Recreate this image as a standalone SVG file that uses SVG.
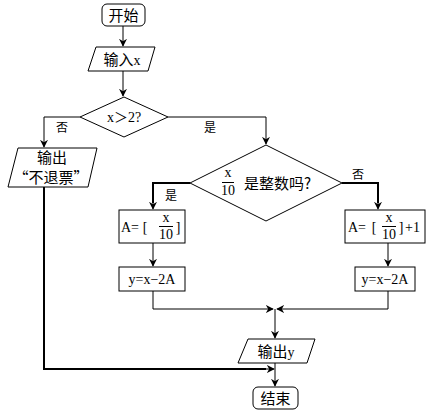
<svg xmlns="http://www.w3.org/2000/svg" width="432" height="412" viewBox="0 0 432 412">
<defs>
<marker id="ah" viewBox="0 0 10 10" refX="9" refY="5" markerWidth="8" markerHeight="8" markerUnits="userSpaceOnUse" orient="auto">
<path d="M0,0 L10,5 L0,10 L3,5 Z" fill="#000"/>
</marker>
<style>
.s{fill:#fff;stroke:#000;stroke-width:1}
.l{fill:none;stroke:#000;stroke-width:1}
.t{fill:none;stroke:#000;stroke-width:2}
.c{font-family:"Noto Sans CJK SC","Liberation Serif",serif;font-size:15px;fill:#000}
.m{font-family:"Liberation Serif","Noto Sans CJK SC",serif;font-size:14px;fill:#000}
.sm{font-family:"Noto Sans CJK SC",sans-serif;font-size:12px;fill:#000}
</style>
</defs>
<rect width="432" height="412" fill="#fff"/>
<g id="connectors">
<line class="l" x1="123" y1="26" x2="123" y2="46" marker-end="url(#ah)"/>
<line class="l" x1="123" y1="71" x2="123" y2="96" marker-end="url(#ah)"/>
<polyline class="l" points="80,117 44,117 44,147" marker-end="url(#ah)"/>
<polyline class="l" points="168,117 266,117 266,144" marker-end="url(#ah)"/>
<polyline class="t" points="44,187 44,369 266,369"/>
<line class="l" x1="266" y1="369" x2="274" y2="369" marker-end="url(#ah)"/>
<polyline class="t" points="190,183 153,183 153,203"/>
<line class="l" x1="153" y1="202" x2="153" y2="209" marker-end="url(#ah)"/>
<polyline class="t" points="342,183 378,183 378,203"/>
<line class="l" x1="378" y1="202" x2="378" y2="209" marker-end="url(#ah)"/>
<line class="l" x1="153" y1="243" x2="153" y2="266" marker-end="url(#ah)"/>
<line class="l" x1="388" y1="243" x2="388" y2="266" marker-end="url(#ah)"/>
<polyline class="l" points="153,291 153,309 273,309" marker-end="url(#ah)"/>
<polyline class="l" points="388,291 388,309 277,309" marker-end="url(#ah)"/>
<line class="l" x1="275" y1="309" x2="275" y2="338" marker-end="url(#ah)"/>
<line class="l" x1="275" y1="363" x2="275" y2="386" marker-end="url(#ah)"/>
<text class="sm" x="62" y="132" text-anchor="middle">否</text>
<text class="sm" x="210" y="132" text-anchor="middle">是</text>
<text class="sm" x="171" y="200" text-anchor="middle">是</text>
<text class="sm" x="358" y="179" text-anchor="middle">否</text>
</g>
<g id="start">
<rect class="s" x="102" y="4" width="43" height="22" rx="5"/>
<text class="c" x="123.5" y="20.5" text-anchor="middle">开始</text>
</g>
<g id="input">
<polygon class="s" points="96,47 155,47 148,71 88,71"/>
<text class="c" x="122" y="64.5" text-anchor="middle">输入<tspan class="m">x</tspan></text>
</g>
<g id="cond1">
<polygon class="s" points="124,97 168,117 124,137 80,117"/>
<text class="m" x="124" y="122" text-anchor="middle">x＞2?</text>
</g>
<g id="out-no">
<polygon class="s" points="18,148 97,148 88,187 8,187"/>
<text class="c" x="52" y="163" text-anchor="middle">输出</text>
<text class="c" x="51" y="183" text-anchor="middle">“不退票”</text>
</g>
<g id="cond2">
<polygon class="s" points="266,145 342,183 266,221 190,183"/>
<text class="m" x="228" y="177" text-anchor="middle" font-size="12">x</text>
<line class="l" x1="222" y1="182.5" x2="234" y2="182.5"/>
<text class="m" x="228" y="195" text-anchor="middle" font-size="13">10</text>
<text class="c" x="244" y="188.5" font-size="16">是整数吗?</text>
</g>
<g id="calcA1">
<rect class="s" x="119" y="210" width="66" height="33"/>
<text class="m" x="121" y="232">A=</text>
<text class="m" x="145" y="232" text-anchor="middle">[</text>
<text class="m" x="166" y="222" text-anchor="middle" font-size="12">x</text>
<line class="l" x1="159" y1="226.5" x2="173" y2="226.5"/>
<text class="m" x="166" y="239" text-anchor="middle" font-size="13">10</text>
<text class="m" x="178" y="232" text-anchor="middle">]</text>
</g>
<g id="calcA2">
<rect class="s" x="345" y="210" width="80" height="33"/>
<text class="m" x="348" y="232">A=</text>
<text class="m" x="374" y="232" text-anchor="middle">[</text>
<text class="m" x="389" y="222" text-anchor="middle" font-size="12">x</text>
<line class="l" x1="382" y1="226.5" x2="396" y2="226.5"/>
<text class="m" x="389" y="239" text-anchor="middle" font-size="13">10</text>
<text class="m" x="401" y="232" text-anchor="middle">]</text>
<text class="m" x="405" y="232">+1</text>
</g>
<g id="calcY1">
<rect class="s" x="119" y="267" width="66" height="24"/>
<text class="m" x="152" y="284" text-anchor="middle">y=x−2A</text>
</g>
<g id="calcY2">
<rect class="s" x="355" y="267" width="60" height="24"/>
<text class="m" x="385" y="284" text-anchor="middle">y=x−2A</text>
</g>
<g id="out-y">
<polygon class="s" points="248,339 315,339 307,363 238,363"/>
<text class="c" x="276" y="356.5" text-anchor="middle">输出<tspan class="m">y</tspan></text>
</g>
<g id="end">
<rect class="s" x="253" y="387" width="45" height="22" rx="5"/>
<text class="c" x="275.5" y="403.5" text-anchor="middle">结束</text>
</g>
</svg>
